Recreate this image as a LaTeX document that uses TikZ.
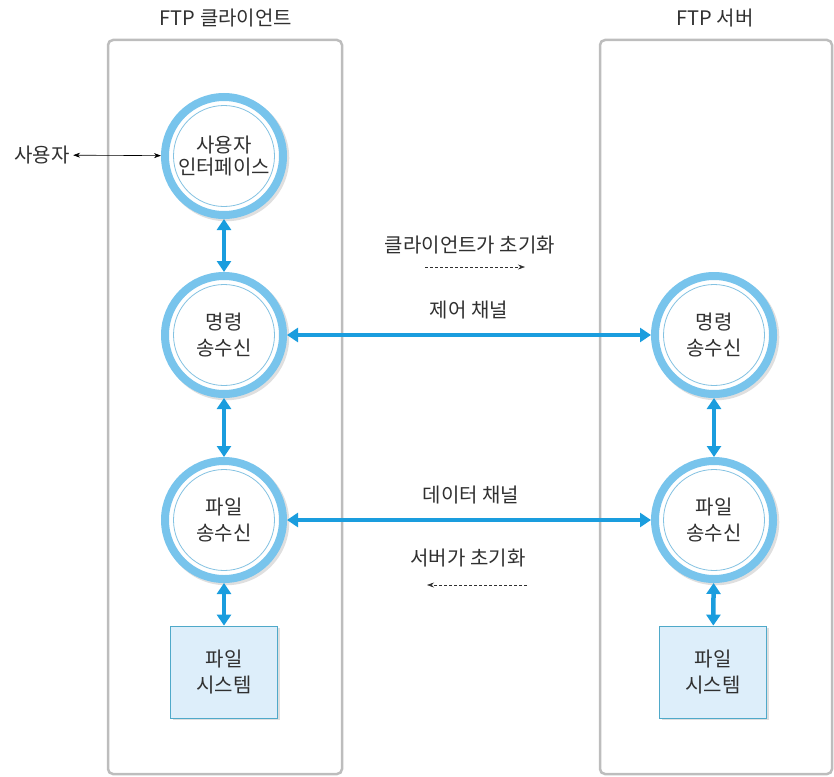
\documentclass[tikz,border=0pt]{standalone}
\usepackage{fontspec}
\setmainfont{Noto Sans CJK KR}
\usetikzlibrary{arrows.meta,shadows}
\definecolor{ringblue}{HTML}{78C4EC}
\definecolor{thinblue}{HTML}{84C2E2}
\definecolor{linkblue}{HTML}{1A9DDE}
\definecolor{panelgray}{HTML}{BDBDBD}
\definecolor{boxfill}{HTML}{DDEEFA}
\definecolor{boxline}{HTML}{4FA9C9}
\definecolor{textgray}{HTML}{303030}

\begin{document}
\begin{tikzpicture}[x=1pt,y=-1pt,font=\fontsize{20}{26}\selectfont,text=textgray]
  \tikzset{panel/.style={draw=panelgray,line width=2.5pt,rounded corners=5pt},
    proc/.style={circle,draw=ringblue,line width=8pt,fill=white,minimum size=118pt,inner sep=0pt,align=center,
      drop shadow={shadow xshift=2pt,shadow yshift=-2pt,shadow scale=1.07,opacity=0.25},
      path picture={\draw[thinblue,line width=0.8pt] (path picture bounding box.center) circle (50.5pt);}},
    store/.style={draw=boxline,line width=0.8pt,fill=boxfill,minimum width=107pt,minimum height=92pt,align=center,
      drop shadow={shadow xshift=2pt,shadow yshift=-2pt,opacity=0.25}},
    link/.style={linkblue,line width=4.5pt,{Triangle[width=14pt,length=11pt]}-{Triangle[width=14pt,length=11pt]}},
    user/.style={black,line width=0.6pt,{Stealth[length=7pt,width=5pt]}-{Stealth[length=7pt,width=5pt]}},
    init/.style={textgray,line width=0.6pt,dash pattern=on 3pt off 2pt,-{Stealth[length=7pt,width=5pt]}}}
  \useasboundingbox (0,0) rectangle (834,776);
  \draw[panel] (108,40) rectangle (342,774);
  \draw[panel] (600,40) rectangle (832,774);
  \node (ctitle) at (226,18) {FTP 클라이언트};
  \node (stitle) at (715,18) {FTP 서버};
  \node[proc] (cui) at (224,156) {사용자\\[-4pt]인터페이스};
  \node[proc] (ccmd) at (224,335) {명령\\송수신};
  \node[proc] (cfile) at (224,520) {파일\\송수신};
  \node[store] (cfs) at (224,672) {파일\\시스템};
  \node[proc] (scmd) at (714,335) {명령\\송수신};
  \node[proc] (sfile) at (714,520) {파일\\송수신};
  \node[store] (sfs) at (713,672) {파일\\시스템};
  \node (user) at (42,155) {사용자};
  \node (cinit) at (470,245) {클라이언트가 초기화};
  \node (ctrl) at (469,310) {제어 채널};
  \node (data) at (471,495) {데이터 채널};
  \node (sinit) at (468,558) {서버가 초기화};
  \coordinate (cia) at (425,267);
  \coordinate (cib) at (525,267);
  \coordinate (sia) at (527,585);
  \coordinate (sib) at (427,585);
  \draw[user] (user) -- (cui);
  \draw[link] (cui) -- (ccmd);
  \draw[link] (ccmd) -- (cfile);
  \draw[link] (cfile) -- (cfs);
  \draw[link] (scmd) -- (sfile);
  \draw[link] (sfile) -- (sfs);
  \draw[link] (ccmd) -- (scmd);
  \draw[link] (cfile) -- (sfile);
  \draw[init] (cia) -- (cib);
  \draw[init] (sia) -- (sib);
\end{tikzpicture}
\end{document}
